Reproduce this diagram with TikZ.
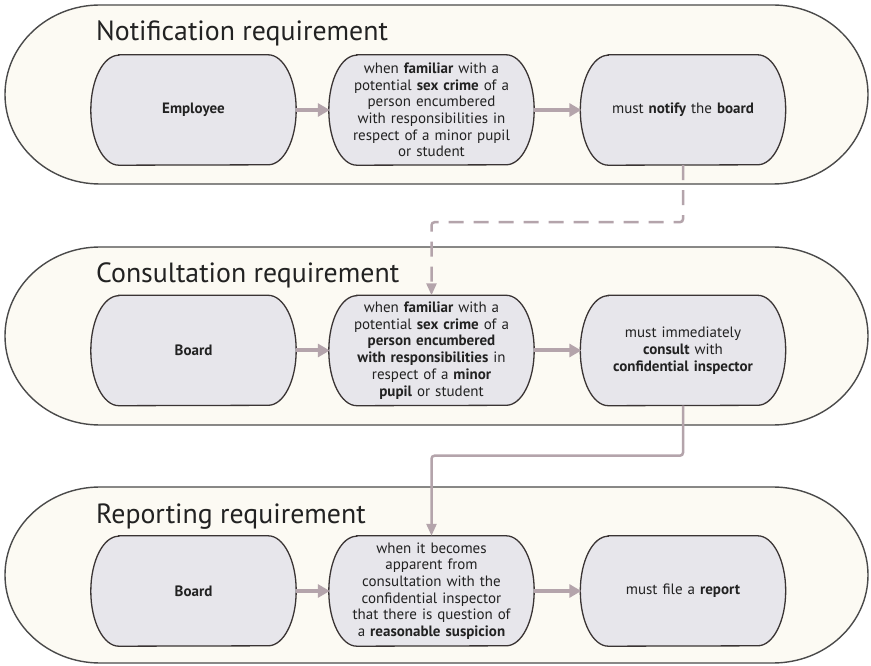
\documentclass[tikz,border=0pt]{standalone}
\usepackage{fontspec}
\setmainfont{PT Sans}
\usetikzlibrary{arrows.meta}
\definecolor{panelfill}{HTML}{FCFAF3}
\definecolor{panelline}{HTML}{4A4A4A}
\definecolor{boxfill}{HTML}{E7E6EB}
\definecolor{boxline}{HTML}{3A3434}
\definecolor{arrowcol}{HTML}{B4A4AB}
\definecolor{txt}{HTML}{222222}
\pgfdeclarelayer{back}
\pgfdeclarelayer{mid}
\pgfsetlayers{back,mid,main}
\tikzset{
  panelstyle/.style={draw=panelline, line width=1.4pt, fill=panelfill},
  capsulestyle/.style={draw=boxline, line width=1.3pt, fill=boxfill},
  boxtext/.style={shape=rectangle, inner sep=0pt, minimum width=205pt, minimum height=110pt,
    text width=170pt, align=center, text=txt, font=\fontsize{15}{16.7}\selectfont},
  titletext/.style={anchor=base west, inner sep=0pt, text=txt, font=\fontsize{27.8}{32}\selectfont},
  flowarrow/.style={draw=arrowcol, line width=4pt, -{Triangle[length=12pt,width=13pt]}, shorten >=-1pt},
  linkarrow/.style={draw=arrowcol, line width=2.5pt, rounded corners=3pt, -{Triangle[length=12pt,width=10pt]}},
  dashlink/.style={linkarrow, dash pattern=on 15pt off 10pt}
}
% outer panel: #1 = center y, #2 = half height
\newcommand\panelshape[2]{%
  \draw[panelstyle] (100,#1+#2) -- (773,#1+#2)
    arc[start angle=90, end angle=-90, x radius=95, y radius=#2]
    -- (100,#1-#2)
    arc[start angle=270, end angle=90, x radius=95, y radius=#2] -- cycle;}
% inner capsule around a named node
\newcommand\capsule[1]{%
  \draw[capsulestyle] ([xshift=28pt]#1.north west) -- ([xshift=-28pt]#1.north east)
    arc[start angle=90, end angle=-90, x radius=28pt, y radius=55pt]
    -- ([xshift=28pt]#1.south west)
    arc[start angle=270, end angle=90, x radius=28pt, y radius=55pt] -- cycle;}
\begin{document}
\begin{tikzpicture}[x=1pt,y=1pt]
\useasboundingbox (0,0) rectangle (871,665);
\begin{pgfonlayer}{back}
  \fill[white] (0,0) rectangle (871,665);
  \panelshape{570.5}{89.5}
  \panelshape{329}{89}
  \panelshape{90}{88}
\end{pgfonlayer}

% titles
\node[titletext] (t1) at (96,624) {Notification requirement};
\node[titletext] (t2) at (96,382) {Consultation requirement};
\node[titletext] (t3) at (96,142) {Reporting requirement};

% panel 1
\node[boxtext] (p1a) at (193.5,555) {\textbf{Employee}};
\node[boxtext] (p1b) at (431.5,555) {when \textbf{familiar} with a\\ potential \textbf{sex crime} of a\\ person encumbered\\ with responsibilities in\\ respect of a minor pupil\\ or student};
\node[boxtext] (p1c) at (683,555) {must \textbf{notify} the \textbf{board}};

% panel 2
\node[boxtext] (p2a) at (193.5,314.5) {\textbf{Board}};
\node[boxtext] (p2b) at (431.5,314.5) {when \textbf{familiar} with a\\ potential \textbf{sex crime} of a\\ \textbf{person encumbered}\\ \textbf{with responsibilities} in\\ respect of a \textbf{minor}\\ \textbf{pupil} or student};
\node[boxtext] (p2c) at (683,314.5) {must immediately\\ \textbf{consult} with\\ \textbf{confidential inspector}};

% panel 3
\node[boxtext] (p3a) at (193.5,74) {\textbf{Board}};
\node[boxtext] (p3b) at (431.5,74) {when it becomes\\ apparent from\\ consultation with the\\ confidential inspector\\ that there is question of\\ a \textbf{reasonable suspicion}};
\node[boxtext] (p3c) at (683,74) {must file a \textbf{report}};

\begin{pgfonlayer}{mid}
  \capsule{p1a}\capsule{p1b}\capsule{p1c}
  \capsule{p2a}\capsule{p2b}\capsule{p2c}
  \capsule{p3a}\capsule{p3b}\capsule{p3c}
\end{pgfonlayer}

% flow arrows
\draw[flowarrow] (p1a.east) -- (p1b.west);
\draw[flowarrow] (p1b.east) -- (p1c.west);
\draw[flowarrow] (p2a.east) -- (p2b.west);
\draw[flowarrow] (p2b.east) -- (p2c.west);
\draw[flowarrow] (p3a.east) -- (p3b.west);
\draw[flowarrow] (p3b.east) -- (p3c.west);

% links between panels
\draw[dashlink] (p1c.south) -- ++(0,-57) -| (p2b.north);
\draw[linkarrow] (p2c.south) -- ++(0,-50) -| (p3b.north);
\end{tikzpicture}
\end{document}
